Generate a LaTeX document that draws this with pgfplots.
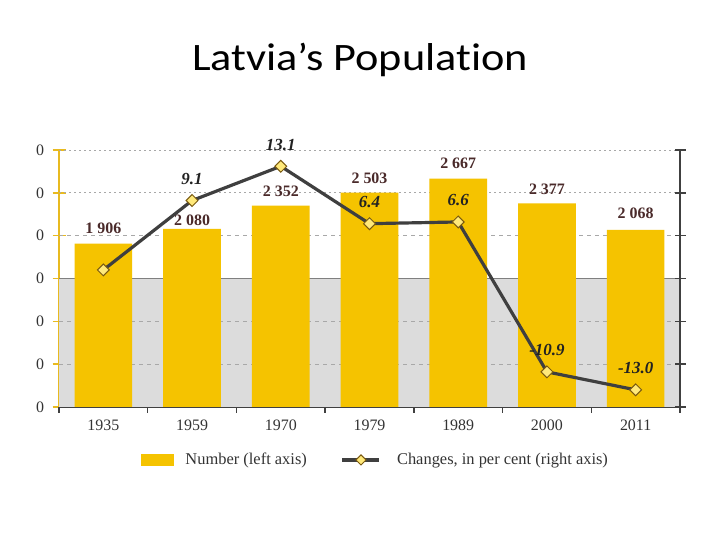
\documentclass[border=0pt]{standalone}
\usepackage{pgfplots}
\pgfplotsset{compat=1.18}
\usepackage{fontspec}
\setmainfont{Liberation Serif}
\newfontfamily\calibri[Ligatures=NoCommon]{Carlito}
\definecolor{barcolor}{HTML}{F5C300}
\definecolor{bggray}{HTML}{DCDCDC}
\definecolor{axisgold}{HTML}{E8BA20}
\definecolor{axisdark}{HTML}{404040}
\definecolor{linegray}{HTML}{3F3F3F}
\definecolor{markfill}{HTML}{FFE97A}
\definecolor{markedge}{HTML}{7A5A10}
\definecolor{gridgray}{HTML}{A8A8A8}
\definecolor{ticktext}{HTML}{333333}
\definecolor{labelbrown}{HTML}{4A2A2A}
\definecolor{pcttext}{HTML}{222222}
\pgfplotsset{
  mylinelegend/.style={legend image code/.code={\draw[mark repeat=2, mark phase=2, ##1] plot coordinates {(0bp,0bp) (18.5bp,0bp) (37bp,0bp)}; \path (42bp,0bp);}},
  mybarlegend/.style={legend image code/.code={\fill[barcolor] (0bp,-6bp) rectangle (33bp,6bp);}},
}
\begin{document}
\begin{tikzpicture}[x=1bp,y=1bp]
\path[use as bounding box, fill=white] (0,0) rectangle (720,540);
\node[font=\calibri\fontsize{39}{41}\selectfont, anchor=base, inner sep=0pt] at (360,469) {\scalebox{1.14}[1]{Latvia’s Population}};
\begin{axis}[
  at={(59bp,133bp)}, anchor=south west, scale only axis,
  width=621bp, height=257bp,
  xmin=-0.5, xmax=6.5, ymin=0, ymax=3000,
  axis x line=bottom, axis y line=left,
  x axis line style={draw=axisdark, line width=2pt, -},
  y axis line style={draw=axisgold, line width=1.5pt, -},
  tick align=center, major tick length=13bp,
  xtick={0,...,6}, xticklabels={1935,1959,1970,1979,1989,2000,2011},
  x tick style={draw=none},
  extra x ticks={-0.5,0.5,...,6.5}, extra x tick labels={},
  extra x tick style={x tick style={draw=axisdark, line width=1.5pt}, tick align=outside, major tick length=6bp},
  ytick={0,500,...,3000}, yticklabels={0,0,0,0,0,0,0},
  y tick style={draw=axisgold, line width=1.5pt},
  xticklabel style={font=\fontsize{16}{17}\selectfont, text=ticktext, yshift=-3bp},
  yticklabel style={font=\fontsize{16}{17}\selectfont, text=ticktext, xshift=-5bp},
  legend style={at={(0.51,-0.206)}, anchor=center, draw=none, fill=none,
    font=\fontsize{16.5}{17}\selectfont, text=ticktext,
    /tikz/every odd column/.append style={column sep=9bp},
    /tikz/every even column/.append style={column sep=32bp}},
  legend columns=2,
  legend cell align=left,
]
\addplot[fill=bggray, draw=none, forget plot] coordinates {(-0.5,1500) (6.5,1500)} \closedcycle;
\addplot[gridgray, line width=0.8pt, dash pattern=on 2bp off 3bp, forget plot] coordinates {(-0.5,3000) (6.5,3000)};
\addplot[gridgray, line width=0.8pt, dash pattern=on 2bp off 3bp, forget plot] coordinates {(-0.5,2500) (6.5,2500)};
\addplot[gridgray, line width=0.8pt, dash pattern=on 4bp off 4bp, forget plot] coordinates {(-0.5,2000) (6.5,2000)};
\addplot[gray, line width=0.8pt, forget plot] coordinates {(-0.5,1500) (6.5,1500)};
\addplot[gridgray, line width=0.8pt, dash pattern=on 4bp off 4bp, forget plot] coordinates {(-0.5,1000) (6.5,1000)};
\addplot[gridgray, line width=0.8pt, dash pattern=on 4bp off 4bp, forget plot] coordinates {(-0.5,500) (6.5,500)};
\addplot[ybar, bar width=0.65, fill=barcolor, draw=none, mybarlegend]
  coordinates {(0,1906) (1,2080) (2,2352) (3,2503) (4,2667) (5,2377) (6,2068)};
\addlegendentry{Number (left axis)}
\addlegendimage{mylinelegend, linegray, line width=3.2pt, mark=square*, mark size=3.6pt,
  mark options={solid, rotate=45, fill=markfill, draw=markedge, line width=1pt}}
\addlegendentry{Changes, in per cent (right axis)}
\addplot[draw=none, mark=none, forget plot, nodes near coords, point meta=explicit symbolic,
  every node near coord/.append style={anchor=center, font=\bfseries\fontsize{16}{17}\selectfont, text=labelbrown}]
  coordinates {(0,2090)[1 906] (1,2175)[2 080] (2,2521)[2 352] (3,2673)[2 503] (4,2848)[2 667] (5,2545)[2 377] (6,2265)[2 068]};
\end{axis}
\begin{axis}[
  at={(59bp,133bp)}, anchor=south west, scale only axis,
  width=621bp, height=257bp,
  xmin=-0.5, xmax=6.5, ymin=-15, ymax=15,
  axis x line=none, axis y line*=right, xtick=\empty,
  y axis line style={draw=axisdark, line width=2.5pt, -},
  ytick={-15,-10,...,15}, yticklabels={},
  y tick style={draw=axisdark, line width=1.5pt},
  tick align=center, major tick length=11bp,
  clip=false,
]
\addplot[linegray, line width=3.2pt, mark=square*, mark size=4.2pt,
  mark options={solid, rotate=45, fill=markfill, draw=markedge, line width=1pt},
  nodes near coords, point meta=explicit symbolic,
  every node near coord/.append style={anchor=center, rotate=0, yshift=21.5bp, font=\bfseries\itshape\fontsize{17}{18}\selectfont, text=pcttext}]
  coordinates {(0,1.0)[] (1,9.1)[9.1] (2,13.1)[13.1] (3,6.4)[6.4] (4,6.6)[6.6] (5,-10.9)[-10.9] (6,-13.0)[-13.0]};
\end{axis}
\end{tikzpicture}
\end{document}
